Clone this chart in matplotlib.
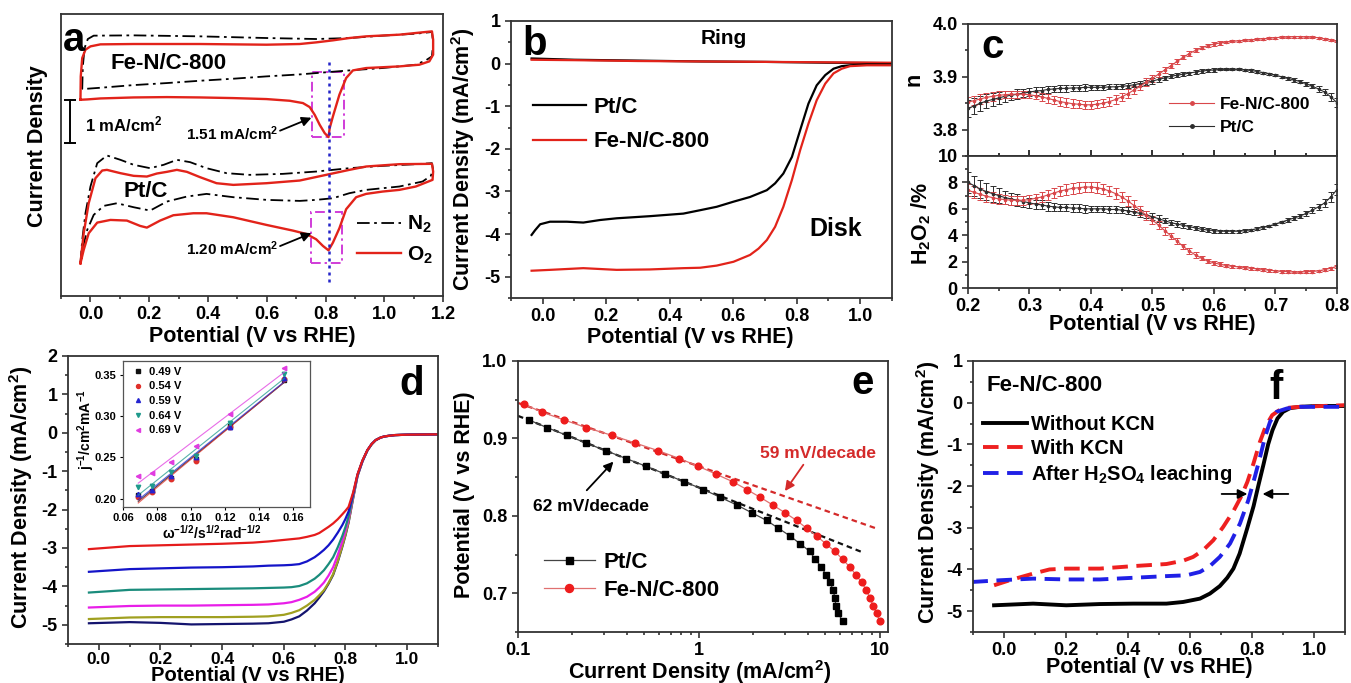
import numpy as np
import matplotlib
matplotlib.use("Agg")
import matplotlib.pyplot as plt
from matplotlib.patches import Rectangle
from matplotlib.lines import Line2D
from matplotlib.ticker import (MultipleLocator, FormatStrFormatter, FuncFormatter,
                               LogLocator, NullFormatter, FixedLocator)

# ---------------- (a) cyclic voltammograms (current relative to trace baseline, mA/cm2)
fe_n2_E = [-0.028, -0.026, -0.020, -0.009, 0.011, 0.147, 0.373, 0.599, 0.768, 0.881, 0.994, 1.107,
           1.162, 1.166, 1.162, 1.141, 1.107, 0.994, 0.881, 0.768, 0.712, 0.599, 0.486, 0.373,
           0.260, 0.147, 0.034, -0.028]
fe_n2_j = [-0.194, 0.333, 0.760, 0.969, 1.047, 1.054, 1.031, 0.992, 0.969, 0.992, 1.047, 1.093,
           1.132, 0.876, 0.566, 0.473, 0.372, 0.295, 0.240, 0.178, 0.147, 0.101, 0.047, 0.000,
           -0.054, -0.101, -0.163, -0.194]
fe_o2_E = [-0.034, -0.033, -0.028, -0.017, 0.000, 0.034, 0.147, 0.373, 0.599, 0.712, 0.768, 0.825,
           0.881, 0.938, 1.051, 1.162, 1.166, 1.166, 1.153, 1.119, 1.051, 0.938, 0.893, 0.870,
           0.847, 0.825, 0.814, 0.810, 0.797, 0.780, 0.763, 0.746, 0.723, 0.678, 0.599, 0.486,
           0.373, 0.260, 0.147, 0.034, -0.011, -0.034]
fe_o2_j = [-0.442, 0.101, 0.527, 0.721, 0.798, 0.845, 0.853, 0.853, 0.837, 0.853, 0.891, 0.938,
           0.992, 1.031, 1.070, 1.147, 0.953, 0.605, 0.450, 0.372, 0.333, 0.295, 0.240, 0.062,
           -0.326, -0.829, -1.101, -1.309, -1.217, -1.023, -0.791, -0.612, -0.519, -0.465, -0.426,
           -0.403, -0.388, -0.380, -0.388, -0.411, -0.434, -0.442]
pt_n2_E = [-0.034, -0.028, -0.017, 0.000, 0.023, 0.056, 0.102, 0.147, 0.203, 0.249, 0.294, 0.339,
           0.395, 0.463, 0.542, 0.655, 0.768, 0.881, 0.994, 1.107, 1.162, 1.166, 1.158, 1.130,
           1.051, 0.938, 0.881, 0.825, 0.768, 0.712, 0.599, 0.486, 0.395, 0.328, 0.260, 0.203,
           0.147, 0.090, 0.045, 0.011, -0.011, -0.025, -0.034]
pt_n2_j = [-1.240, -0.698, -0.078, 0.543, 1.085, 1.264, 1.163, 1.047, 0.969, 1.047, 1.163, 1.109,
           0.969, 0.853, 0.814, 0.837, 0.891, 0.969, 1.023, 1.062, 1.085, 0.930, 0.791, 0.659,
           0.543, 0.465, 0.388, 0.271, 0.233, 0.209, 0.233, 0.295, 0.372, 0.310, 0.194, -0.016,
           0.062, 0.155, 0.093, -0.116, -0.465, -0.853, -1.240]
pt_o2_E = [-0.034, -0.023, -0.006, 0.017, 0.040, 0.056, 0.102, 0.147, 0.192, 0.226, 0.260, 0.294,
           0.328, 0.373, 0.429, 0.486, 0.599, 0.712, 0.802, 0.881, 0.938, 1.051, 1.162, 1.166,
           1.164, 1.107, 1.051, 0.994, 0.938, 0.904, 0.870, 0.847, 0.825, 0.810, 0.791, 0.768,
           0.734, 0.689, 0.599, 0.486, 0.395, 0.350, 0.282, 0.237, 0.192, 0.169, 0.124, 0.068,
           0.023, -0.006, -0.023, -0.034]
pt_o2_j = [-1.240, -0.543, 0.155, 0.736, 0.915, 0.930, 0.853, 0.791, 0.775, 0.845, 0.884, 0.930,
           0.884, 0.760, 0.620, 0.581, 0.620, 0.682, 0.814, 0.930, 1.008, 1.062, 1.070, 0.891,
           0.698, 0.543, 0.465, 0.426, 0.372, 0.295, 0.016, -0.426, -0.760, -0.939, -0.837,
           -0.682, -0.558, -0.481, -0.349, -0.171, -0.078, -0.078, -0.124, -0.248, -0.411,
           -0.372, -0.248, -0.233, -0.295, -0.543, -0.930, -1.240]
peak_potential = 0.81
fe_peak_current = 1.51
pt_peak_current = 1.20

# ---------------- (b) RRDE ring / disk currents
ring_E = [-0.035, 0.1, 0.3, 0.5, 0.7, 0.9, 1.1]
ring_pt = [0.12, 0.09, 0.07, 0.05, 0.04, 0.02, 0.01]
ring_fe = [0.09, 0.08, 0.06, 0.05, 0.04, 0.03, 0.02]
pt_disk_E = [-0.035, -0.024, -0.008, 0.023, 0.076, 0.128, 0.181, 0.233, 0.338, 0.443, 0.496,
             0.548, 0.601, 0.653, 0.706, 0.732, 0.758, 0.785, 0.811, 0.837, 0.863, 0.890, 0.916,
             0.942, 0.968, 1.021, 1.095]
pt_disk_j = [-4.02, -3.91, -3.77, -3.71, -3.71, -3.73, -3.67, -3.63, -3.58, -3.52, -3.44, -3.36,
             -3.24, -3.13, -2.97, -2.81, -2.58, -2.19, -1.56, -0.94, -0.51, -0.27, -0.12, -0.06,
             -0.04, -0.02, -0.02]
fe_disk_E = [-0.035, 0.023, 0.128, 0.233, 0.338, 0.443, 0.496, 0.548, 0.601, 0.653, 0.680, 0.706,
             0.732, 0.758, 0.785, 0.811, 0.837, 0.863, 0.890, 0.916, 0.942, 0.968, 1.021, 1.095]
fe_disk_j = [-4.86, -4.84, -4.80, -4.84, -4.83, -4.80, -4.79, -4.74, -4.65, -4.49, -4.34, -4.14,
             -3.83, -3.36, -2.73, -2.03, -1.41, -0.86, -0.47, -0.23, -0.12, -0.06, -0.04, -0.04]

# ---------------- (c) electron transfer number and peroxide yield
c_E = np.linspace(0.20, 0.80, 61)
fe_n = [3.852, 3.855, 3.858, 3.861, 3.863, 3.865, 3.866, 3.867, 3.867, 3.867,
        3.866, 3.864, 3.862, 3.859, 3.856, 3.853, 3.851, 3.849, 3.848, 3.847,
        3.847, 3.848, 3.850, 3.853, 3.857, 3.862, 3.868, 3.875, 3.882, 3.890,
        3.897, 3.905, 3.913, 3.921, 3.929, 3.937, 3.944, 3.950, 3.955, 3.959,
        3.962, 3.964, 3.966, 3.967, 3.968, 3.969, 3.970, 3.971, 3.972, 3.973,
        3.974, 3.975, 3.975, 3.976, 3.976, 3.975, 3.975, 3.974, 3.972, 3.970, 3.967]
fe_n_err = [0.009, 0.009, 0.009, 0.008, 0.008, 0.008, 0.007, 0.007, 0.007, 0.007,
            0.007, 0.007, 0.008, 0.008, 0.008, 0.008, 0.008, 0.008, 0.008, 0.008,
            0.008, 0.008, 0.008, 0.008, 0.008, 0.008, 0.008, 0.008, 0.007, 0.007,
            0.006, 0.006, 0.006, 0.005, 0.005, 0.004, 0.004, 0.004, 0.003, 0.003,
            0.003, 0.003, 0.002, 0.002, 0.002, 0.002, 0.002, 0.002, 0.002, 0.002,
            0.002, 0.002, 0.002, 0.002, 0.002, 0.002, 0.002, 0.002, 0.002, 0.002, 0.002]
pt_n = [3.840, 3.845, 3.850, 3.854, 3.857, 3.860, 3.863, 3.865, 3.867, 3.869,
        3.871, 3.873, 3.874, 3.876, 3.877, 3.878, 3.878, 3.879, 3.879, 3.880,
        3.880, 3.880, 3.880, 3.881, 3.881, 3.882, 3.883, 3.885, 3.887, 3.889,
        3.892, 3.895, 3.898, 3.901, 3.903, 3.905, 3.907, 3.909, 3.911, 3.912,
        3.913, 3.914, 3.914, 3.914, 3.914, 3.913, 3.912, 3.910, 3.908, 3.906,
        3.903, 3.900, 3.897, 3.894, 3.891, 3.887, 3.882, 3.877, 3.871, 3.862, 3.851]
pt_n_err = [0.016, 0.015, 0.014, 0.013, 0.012, 0.011, 0.010, 0.009, 0.009, 0.008,
            0.008, 0.007, 0.007, 0.007, 0.006, 0.006, 0.006, 0.006, 0.006, 0.006,
            0.005, 0.005, 0.005, 0.005, 0.005, 0.005, 0.005, 0.005, 0.005, 0.005,
            0.005, 0.005, 0.004, 0.004, 0.004, 0.004, 0.003, 0.003, 0.003, 0.003,
            0.003, 0.002, 0.002, 0.002, 0.002, 0.002, 0.002, 0.002, 0.002, 0.002,
            0.002, 0.002, 0.003, 0.003, 0.003, 0.004, 0.004, 0.005, 0.006, 0.007, 0.008]
fe_h2o2 = [7.40, 7.25, 7.10, 6.95, 6.85, 6.75, 6.70, 6.65, 6.65, 6.65,
           6.70, 6.80, 6.90, 7.05, 7.20, 7.35, 7.45, 7.55, 7.60, 7.65,
           7.65, 7.60, 7.50, 7.35, 7.15, 6.90, 6.60, 6.25, 5.90, 5.50,
           5.15, 4.75, 4.35, 3.95, 3.55, 3.15, 2.80, 2.50, 2.25, 2.05,
           1.90, 1.80, 1.70, 1.65, 1.60, 1.55, 1.50, 1.45, 1.40, 1.35,
           1.30, 1.25, 1.25, 1.20, 1.20, 1.25, 1.25, 1.30, 1.40, 1.50, 1.65]
fe_h2o2_err = [0.45, 0.45, 0.45, 0.40, 0.40, 0.40, 0.35, 0.35, 0.35, 0.35,
               0.35, 0.35, 0.40, 0.40, 0.40, 0.40, 0.40, 0.40, 0.40, 0.40,
               0.40, 0.40, 0.40, 0.40, 0.40, 0.40, 0.40, 0.40, 0.35, 0.35,
               0.30, 0.30, 0.30, 0.25, 0.25, 0.20, 0.20, 0.20, 0.15, 0.15,
               0.15, 0.15, 0.10, 0.10, 0.10, 0.10, 0.10, 0.10, 0.10, 0.10,
               0.10, 0.10, 0.10, 0.10, 0.10, 0.10, 0.10, 0.10, 0.10, 0.10, 0.10]
pt_h2o2 = [8.00, 7.75, 7.50, 7.30, 7.15, 7.00, 6.85, 6.75, 6.65, 6.55,
           6.45, 6.35, 6.30, 6.20, 6.15, 6.10, 6.10, 6.05, 6.05, 6.00,
           6.00, 6.00, 6.00, 5.95, 5.95, 5.90, 5.85, 5.75, 5.65, 5.55,
           5.40, 5.25, 5.10, 4.95, 4.85, 4.75, 4.65, 4.55, 4.45, 4.40,
           4.35, 4.30, 4.30, 4.30, 4.30, 4.35, 4.40, 4.50, 4.60, 4.70,
           4.85, 5.00, 5.15, 5.30, 5.45, 5.65, 5.90, 6.15, 6.45, 6.90, 7.45]
pt_h2o2_err = [0.80, 0.75, 0.70, 0.65, 0.60, 0.55, 0.50, 0.45, 0.45, 0.40,
               0.40, 0.35, 0.35, 0.35, 0.30, 0.30, 0.30, 0.30, 0.30, 0.30,
               0.25, 0.25, 0.25, 0.25, 0.25, 0.25, 0.25, 0.25, 0.25, 0.25,
               0.25, 0.25, 0.20, 0.20, 0.20, 0.20, 0.15, 0.15, 0.15, 0.15,
               0.15, 0.10, 0.10, 0.10, 0.10, 0.10, 0.10, 0.10, 0.10, 0.10,
               0.10, 0.10, 0.15, 0.15, 0.15, 0.20, 0.20, 0.25, 0.30, 0.35, 0.40]

# ---------------- (d) LSV at different rotation rates + K-L plot
d_E = [-0.032, 0.1, 0.2, 0.3, 0.4, 0.5, 0.55, 0.6, 0.625, 0.65, 0.675, 0.7, 0.715, 0.73, 0.745,
       0.76, 0.775, 0.79, 0.80, 0.81, 0.825, 0.839, 0.855, 0.871, 0.885, 0.898, 0.915, 0.93,
       0.96, 1.0, 1.1]
d_j_red = [-3.03, -2.95, -2.93, -2.91, -2.89, -2.86, -2.83, -2.79, -2.77, -2.75, -2.71, -2.66,
           -2.61, -2.53, -2.45, -2.36, -2.25, -2.12, -2.03, -1.93, -1.55, -1.08, -0.72, -0.45,
           -0.29, -0.19, -0.12, -0.09, -0.06, -0.05, -0.04]
d_j_blue = [-3.62, -3.55, -3.53, -3.51, -3.50, -3.48, -3.46, -3.45, -3.44, -3.42, -3.35, -3.24,
            -3.15, -3.05, -2.93, -2.78, -2.60, -2.40, -2.24, -2.05, -1.58, -1.09, -0.73, -0.45,
            -0.29, -0.19, -0.12, -0.09, -0.06, -0.05, -0.04]
d_j_teal = [-4.16, -4.09, -4.08, -4.07, -4.06, -4.05, -4.04, -4.03, -4.02, -3.99, -3.92, -3.80,
            -3.70, -3.58, -3.42, -3.24, -2.98, -2.68, -2.45, -2.18, -1.62, -1.10, -0.73, -0.46,
            -0.29, -0.19, -0.12, -0.09, -0.06, -0.05, -0.04]
d_j_magenta = [-4.55, -4.51, -4.50, -4.50, -4.49, -4.48, -4.47, -4.44, -4.41, -4.35, -4.27, -4.14,
               -4.03, -3.90, -3.72, -3.50, -3.18, -2.82, -2.55, -2.25, -1.65, -1.11, -0.74, -0.46,
               -0.29, -0.19, -0.12, -0.09, -0.06, -0.05, -0.04]
d_j_olive = [-4.85, -4.81, -4.80, -4.80, -4.80, -4.79, -4.78, -4.74, -4.69, -4.62, -4.50, -4.35,
             -4.23, -4.10, -3.91, -3.68, -3.34, -2.94, -2.65, -2.32, -1.68, -1.12, -0.74, -0.46,
             -0.30, -0.19, -0.12, -0.09, -0.06, -0.05, -0.04]
d_j_navy = [-4.96, -4.93, -4.95, -4.99, -4.98, -4.97, -4.96, -4.92, -4.86, -4.78, -4.63, -4.44,
            -4.29, -4.13, -3.93, -3.70, -3.36, -2.96, -2.67, -2.34, -1.70, -1.13, -0.75, -0.46,
            -0.30, -0.19, -0.12, -0.09, -0.06, -0.05, -0.04]
kl_x = [0.069, 0.077, 0.088, 0.103, 0.123, 0.155]
kl_labels = ["0.49 V", "0.54 V", "0.59 V", "0.64 V", "0.69 V"]
kl_049 = [0.204, 0.209, 0.225, 0.248, 0.288, 0.344]
kl_054 = [0.202, 0.208, 0.224, 0.246, 0.287, 0.345]
kl_059 = [0.206, 0.211, 0.227, 0.250, 0.287, 0.346]
kl_064 = [0.214, 0.216, 0.232, 0.252, 0.292, 0.351]
kl_069 = [0.228, 0.231, 0.244, 0.264, 0.303, 0.358]

# ---------------- (e) Tafel plots
tafel_pt_j = [0.1146, 0.1445, 0.186, 0.238, 0.307, 0.396, 0.511, 0.650, 0.831, 1.059, 1.31, 1.62,
              1.96, 2.37, 2.75, 3.19, 3.62, 4.11, 4.38, 4.76, 5.03, 5.30, 5.53, 5.64, 5.72, 5.89, 6.22]
tafel_pt_E = [0.924, 0.914, 0.904, 0.894, 0.884, 0.874, 0.864, 0.854, 0.844, 0.834, 0.824, 0.814,
              0.804, 0.794, 0.784, 0.774, 0.764, 0.754, 0.744, 0.734, 0.724, 0.714, 0.704, 0.694,
              0.684, 0.674, 0.664]
tafel_fe_j = [0.108, 0.1355, 0.179, 0.238, 0.330, 0.445, 0.598, 0.780, 0.993, 1.24, 1.54, 1.84,
              2.18, 2.56, 2.99, 3.47, 3.94, 4.47, 5.03, 5.64, 6.22, 6.82, 7.37, 7.93, 8.44, 8.81,
              9.19, 9.59, 10.0]
tafel_fe_E = [0.944, 0.934, 0.924, 0.914, 0.904, 0.894, 0.884, 0.874, 0.864, 0.854, 0.844, 0.834,
              0.824, 0.814, 0.804, 0.794, 0.784, 0.774, 0.764, 0.754, 0.744, 0.734, 0.724, 0.714,
              0.704, 0.694, 0.684, 0.674, 0.664]

# ---------------- (f) poisoning test
f_none_E = [-0.032, 0.094, 0.201, 0.309, 0.417, 0.524, 0.578, 0.632, 0.664, 0.696, 0.72, 0.74,
            0.76, 0.785, 0.805, 0.82, 0.837, 0.852, 0.866, 0.882, 0.90, 0.923, 0.955, 1.009, 1.100]
f_none_j = [-4.86, -4.82, -4.86, -4.83, -4.82, -4.82, -4.78, -4.70, -4.58, -4.40, -4.20, -3.98,
            -3.62, -3.00, -2.48, -2.00, -1.48, -1.00, -0.66, -0.38, -0.22, -0.13, -0.10, -0.08, -0.08]
f_kcn_E = [-0.032, 0.018, 0.094, 0.147, 0.201, 0.309, 0.417, 0.524, 0.578, 0.610, 0.642, 0.675,
           0.707, 0.740, 0.765, 0.785, 0.805, 0.825, 0.845, 0.865, 0.890, 0.920, 0.955, 1.100]
f_kcn_j = [-4.38, -4.26, -4.10, -4.00, -3.98, -3.98, -3.92, -3.87, -3.79, -3.70, -3.54, -3.30,
           -2.98, -2.60, -2.25, -1.90, -1.45, -0.95, -0.55, -0.30, -0.17, -0.12, -0.10, -0.06]
f_acid_E = [-0.102, -0.014, 0.094, 0.201, 0.309, 0.417, 0.524, 0.589, 0.632, 0.664, 0.696, 0.729,
            0.761, 0.788, 0.809, 0.826, 0.842, 0.858, 0.879, 0.912, 0.955, 1.100]
f_acid_j = [-4.30, -4.26, -4.22, -4.24, -4.24, -4.20, -4.16, -4.14, -4.06, -3.92, -3.70, -3.38,
            -2.90, -2.34, -1.78, -1.30, -0.82, -0.46, -0.22, -0.14, -0.10, -0.10]

# ---------------- styling
plt.rcParams.update({
    "font.family": ["Liberation Sans", "DejaVu Sans"],
    "font.weight": "bold",
    "axes.labelweight": "bold",
    "axes.unicode_minus": False,
    "mathtext.fontset": "custom",
    "mathtext.rm": "Liberation Sans:bold",
    "mathtext.it": "Liberation Sans:bold",
    "mathtext.bf": "Liberation Sans:bold",
    "mathtext.sf": "Liberation Sans:bold",
})

RED = "#e2231a"
SPINE = "#333333"
TICK_FS = 13
LABEL_FS = 15.5
LETTER_FS = 29


def frame(ax, xmaj=None, xmin=None, ymaj=None, ymin=None):
    if xmaj:
        ax.xaxis.set_major_locator(MultipleLocator(xmaj))
        ax.xaxis.set_minor_locator(MultipleLocator(xmin))
    if ymaj:
        ax.yaxis.set_major_locator(MultipleLocator(ymaj))
        ax.yaxis.set_minor_locator(MultipleLocator(ymin))
    ax.tick_params(which="both", direction="out", width=1.2, labelsize=TICK_FS,
                   top=False, right=False, colors=SPINE, labelcolor="black")
    ax.tick_params(which="major", length=4.5, pad=3)
    ax.tick_params(which="minor", length=2.5)
    for s in ax.spines.values():
        s.set_linewidth(1.3)
        s.set_color(SPINE)


def arrow(ax, start, end, color="black", lw=1.3):
    ax.annotate("", xy=end, xytext=start,
                arrowprops=dict(arrowstyle="-|>", color=color, lw=lw,
                                mutation_scale=14, shrinkA=0, shrinkB=0))


fig = plt.figure(figsize=(13.51, 6.83), dpi=100)

# ======================= (a)
ax = fig.add_axes([0.0452, 0.5666, 0.2828, 0.4129])
FE_OFF, PT_OFF = 5.0, 2.0
DASHDOT = (0, (7, 2.5, 1.5, 2.5))
ax.plot(fe_n2_E, np.array(fe_n2_j) + FE_OFF, color="black", lw=1.3, ls=DASHDOT)
ax.plot(fe_o2_E, np.array(fe_o2_j) + FE_OFF, color=RED, lw=1.7)
ax.plot(pt_n2_E, np.array(pt_n2_j) + PT_OFF, color="black", lw=1.3, ls=DASHDOT)
ax.plot(pt_o2_E, np.array(pt_o2_j) + PT_OFF, color=RED, lw=1.7)
ax.plot([peak_potential, peak_potential], [0.33, 5.45], color="#2424c8", lw=1.8, ls=(0, (1.2, 1.6)))
fe_min = min(fe_o2_j) + FE_OFF
pt_min = min(pt_o2_j) + PT_OFF
for lo, width, base, drop in [(0.755, 0.109, fe_min, fe_peak_current),
                              (0.749, 0.107, pt_min, pt_peak_current)]:
    ax.add_patch(Rectangle((lo, base), width, drop, fill=False, ec="#d03cd8",
                           lw=1.4, ls=(0, (5, 2, 1.2, 2))))
ax.plot([-0.068, -0.068], [3.55, 4.55], color="black", lw=1.4, marker="_", ms=9, mew=1.4)
ax.text(-0.017, 3.98, "1 mA/cm$^2$", fontsize=12, va="center", ha="left")
ax.text(0.638, 3.78, "%.2f mA/cm$^2$" % fe_peak_current, fontsize=11, va="center", ha="right")
arrow(ax, (0.645, 3.84), (0.752, 4.14))
ax.text(0.638, 1.11, "%.2f mA/cm$^2$" % pt_peak_current, fontsize=11, va="center", ha="right")
arrow(ax, (0.645, 1.16), (0.752, 1.46))
ax.text(0.068, 5.41, "Fe-N/C-800", fontsize=16, va="center", ha="left")
ax.text(0.113, 2.43, "Pt/C", fontsize=16, va="center", ha="left")
ax.text(-0.095, 5.95, "a", fontsize=LETTER_FS, va="center", ha="left")
ax.legend(handles=[Line2D([], [], color="black", lw=1.3, ls=DASHDOT),
                   Line2D([], [], color=RED, lw=1.7)],
          labels=["N$_2$", "O$_2$"], loc="lower left", bbox_to_anchor=(0.775, 0.107),
          frameon=False, fontsize=15, handlelength=2.1, handletextpad=0.3,
          labelspacing=0.45, borderpad=0, borderaxespad=0)
ax.set_xlim(-0.1, 1.2)
ax.set_ylim(0, 6.55)
frame(ax, 0.2, 0.1)
ax.set_yticks([])
ax.xaxis.set_major_formatter(FormatStrFormatter("%.1f"))
ax.set_xlabel("Potential (V vs RHE)", fontsize=LABEL_FS)
ax.set_ylabel("Current Density", fontsize=LABEL_FS)
ax.xaxis.set_label_coords(0.50, -0.105)
ax.yaxis.set_label_coords(-0.035, 0.53)

# ======================= (b)
ax = fig.add_axes([0.3782, 0.5637, 0.2820, 0.4056])
ax.plot(ring_E, ring_pt, color="black", lw=1.6)
ax.plot(ring_E, ring_fe, color=RED, lw=1.6)
ax.plot(pt_disk_E, pt_disk_j, color="black", lw=1.6, label="Pt/C")
ax.plot(fe_disk_E, fe_disk_j, color=RED, lw=1.6, label="Fe-N/C-800")
ax.text(0.569, 0.59, "Ring", fontsize=15, ha="center", va="center")
ax.text(0.923, -3.87, "Disk", fontsize=18, ha="center", va="center")
ax.text(-0.065, 0.45, "b", fontsize=LETTER_FS, ha="left", va="center")
ax.legend(loc="upper left", bbox_to_anchor=(0.057, 0.725), frameon=False, fontsize=16,
          handlelength=2.4, handletextpad=0.35, labelspacing=0.6, borderpad=0, borderaxespad=0)
ax.set_xlim(-0.1, 1.1)
ax.set_ylim(-5.5, 1)
frame(ax, 0.2, 0.1, 1, 0.5)
ax.xaxis.set_major_formatter(FormatStrFormatter("%.1f"))
ax.set_xlabel("Potential (V vs RHE)", fontsize=LABEL_FS)
ax.set_ylabel("Current Density (mA/cm$^2$)", fontsize=LABEL_FS)
ax.xaxis.set_label_coords(0.47, -0.105)
ax.yaxis.set_label_coords(-0.09, 0.50)

# ======================= (c)
ax_n = fig.add_axes([0.7165, 0.7716, 0.2731, 0.1933])
ax_h = fig.add_axes([0.7165, 0.5783, 0.2731, 0.1933], sharex=ax_n)
C_RED, C_BLK = "#d9474a", "#2d2d2d"
eb = dict(lw=0.8, elinewidth=0.7, capsize=2.2, capthick=0.7, marker="o", ms=1.6)
ax_n.errorbar(c_E, pt_n, yerr=pt_n_err, color=C_BLK, **eb)
ax_n.errorbar(c_E, fe_n, yerr=fe_n_err, color=C_RED, **eb)
ax_h.errorbar(c_E, pt_h2o2, yerr=pt_h2o2_err, color=C_BLK, **eb)
ax_h.errorbar(c_E, fe_h2o2, yerr=fe_h2o2_err, color=C_RED, **eb)
ax_n.legend(handles=[Line2D([], [], color=C_RED, lw=0.8, marker="o", ms=2.5),
                     Line2D([], [], color=C_BLK, lw=0.8, marker="o", ms=2.5)],
            labels=["Fe-N/C-800", "Pt/C"], loc="upper left", bbox_to_anchor=(0.545, 0.45),
            frameon=False, fontsize=12.5, handlelength=2.6, handletextpad=0.3,
            labelspacing=0.45, borderpad=0, borderaxespad=0)
ax_n.text(0.221, 3.957, "c", fontsize=LETTER_FS, ha="left", va="center")
ax_n.set_xlim(0.2, 0.8)
ax_n.set_ylim(3.75, 4.0)
ax_h.set_ylim(0, 10)
frame(ax_n, 0.1, 0.05, 0.1, 0.05)
frame(ax_h, 0.1, 0.05, 2, 1)
ax_n.yaxis.set_major_locator(FixedLocator([3.8, 3.9, 4.0]))
ax_n.yaxis.set_major_formatter(FormatStrFormatter("%.1f"))
ax_n.tick_params(axis="x", which="both", direction="in", labelbottom=False)
ax_h.tick_params(axis="x", which="both", top=True)
ax_h.xaxis.set_major_formatter(FormatStrFormatter("%.1f"))
ax_n.set_ylabel("n", fontsize=LABEL_FS)
ax_h.set_ylabel("H$_2$O$_2$ /%", fontsize=LABEL_FS)
ax_h.set_xlabel("Potential (V vs RHE)", fontsize=LABEL_FS)
ax_n.yaxis.set_label_coords(-0.118, 0.58)
ax_h.yaxis.set_label_coords(-0.096, 0.49)
ax_h.xaxis.set_label_coords(0.50, -0.20)

# ======================= (d)
ax = fig.add_axes([0.0503, 0.0571, 0.2739, 0.4217])
for vals, col in [(d_j_navy, "#14146e"), (d_j_olive, "#a0a020"), (d_j_magenta, "#e81ee8"),
                  (d_j_teal, "#1a8c7c"), (d_j_blue, "#1414c8"), (d_j_red, "#e51b1b")]:
    ax.plot(d_E, vals, color=col, lw=1.6)
ax.text(0.975, 1.28, "d", fontsize=LETTER_FS, ha="left", va="center")
ax.set_xlim(-0.1, 1.1)
ax.set_ylim(-5.5, 2)
frame(ax, 0.2, 0.1, 1, 0.5)
ax.tick_params(axis="x", which="major", labelsize=12.5, pad=1)
ax.xaxis.set_major_formatter(FormatStrFormatter("%.1f"))
ax.set_xlabel("Potential (V vs RHE)", fontsize=14.5)
ax.set_ylabel("Current Density (mA/cm$^2$)", fontsize=LABEL_FS)
ax.xaxis.set_label_coords(0.485, -0.078)
ax.yaxis.set_label_coords(-0.09, 0.51)

axi = fig.add_axes([0.0910, 0.2577, 0.1384, 0.2138])
kl_sets = [kl_049, kl_054, kl_059, kl_064, kl_069]
kl_marks = ["s", "o", "^", "v", "<"]
kl_cols = ["#111111", "#e0302a", "#2424d0", "#1f9a8c", "#e03ce0"]
xs = np.array(kl_x)
for vals, m, col, lab in zip(kl_sets, kl_marks, kl_cols, kl_labels):
    k, b = np.polyfit(xs, vals, 1)
    axi.plot(xs, k * xs + b, color=col, lw=0.8, alpha=0.75)
    axi.plot(xs, vals, ls="none", marker=m, ms=3.2, color=col, label=lab)
axi.legend(loc="upper left", bbox_to_anchor=(0.06, 0.96), frameon=False, fontsize=8,
           handlelength=0.7, handletextpad=0.6, labelspacing=0.42, borderpad=0,
           borderaxespad=0, markerscale=0.9)
axi.set_xlim(0.06, 0.17)
axi.set_ylim(0.19, 0.367)
axi.xaxis.set_major_locator(MultipleLocator(0.02))
axi.yaxis.set_major_locator(MultipleLocator(0.05))
axi.xaxis.set_major_formatter(FormatStrFormatter("%.2f"))
axi.yaxis.set_major_formatter(FormatStrFormatter("%.2f"))
axi.tick_params(which="both", direction="out", labelsize=8, length=2.5, width=0.8,
                top=False, right=False, pad=2)
for s in axi.spines.values():
    s.set_linewidth(0.9)
    s.set_color("#555555")
axi.set_ylabel("j$^{-1}$/cm$^2$mA$^{-1}$", fontsize=10, labelpad=1)
axi.set_xlabel("ω$^{-1/2}$/s$^{1/2}$rad$^{-1/2}$", fontsize=10, labelpad=1)
axi.yaxis.set_label_coords(-0.14, 0.53)
axi.xaxis.set_label_coords(0.475, -0.115)

# ======================= (e)
ax = fig.add_axes([0.3834, 0.0747, 0.2739, 0.3968])
ax.set_xscale("log")
ax.plot(tafel_pt_j, tafel_pt_E, color="#444444", lw=0.9, marker="s", ms=4.2,
        mfc="black", mec="black", label="Pt/C")
ax.plot(tafel_fe_j, tafel_fe_E, color="#e07070", lw=0.9, marker="o", ms=4.8,
        mfc="#ee1c1c", mec="#ee1c1c", label="Fe-N/C-800")
for jj, ee, col, xmax in [(tafel_pt_j, tafel_pt_E, "#111111", 8.1),
                          (tafel_fe_j, tafel_fe_E, "#d42a2a", 9.5)]:
    k, b = np.polyfit(np.log10(jj[:10]), ee[:10], 1)
    xl = np.array([0.1, xmax])
    ax.plot(xl, k * np.log10(xl) + b, color=col, lw=1.6, ls=(0, (2.5, 1.8)), zorder=1)
ax.text(0.121, 0.812, "62 mV/decade", fontsize=12.5, ha="left", va="center")
arrow(ax, (0.240, 0.833), (0.337, 0.870))
ax.text(2.18, 0.881, "59 mV/decade", fontsize=12.5, ha="left", va="center", color="#d42a2a")
arrow(ax, (3.78, 0.866), (2.99, 0.832), color="#d42a2a")
ax.text(7.0, 0.971, "e", fontsize=LETTER_FS, ha="left", va="center")
ax.legend(loc="lower left", bbox_to_anchor=(0.07, 0.115), frameon=False, fontsize=16,
          handlelength=2.3, handletextpad=0.4, labelspacing=0.3, borderpad=0,
          borderaxespad=0, numpoints=1, markerscale=1.2)
ax.set_xlim(0.1, 11.1)
ax.set_ylim(0.65, 1.0)
frame(ax, None, None, 0.1, 0.05)
ax.xaxis.set_major_locator(LogLocator(base=10))
ax.xaxis.set_minor_locator(LogLocator(base=10, subs=np.arange(2, 10)))
ax.xaxis.set_major_formatter(FuncFormatter(lambda v, p: "%g" % v))
ax.xaxis.set_minor_formatter(NullFormatter())
ax.yaxis.set_major_formatter(FormatStrFormatter("%.1f"))
ax.set_xlabel("Current Density (mA/cm$^2$)", fontsize=LABEL_FS)
ax.set_ylabel("Potential (V vs RHE)", fontsize=LABEL_FS)
ax.xaxis.set_label_coords(0.49, -0.095)
ax.yaxis.set_label_coords(-0.115, 0.505)

# ======================= (f)
ax = fig.add_axes([0.7202, 0.0747, 0.2754, 0.3968])
ax.plot(f_none_E, f_none_j, color="black", lw=2.8, label="Without KCN")
ax.plot(f_kcn_E, f_kcn_j, color="#ee2020", lw=2.8, ls=(0, (4, 2.2)), label="With KCN")
ax.plot(f_acid_E, f_acid_j, color="#2020e6", lw=2.8, ls=(0, (4, 2.2)),
        label="After H$_2$SO$_4$ leaching")
arrow(ax, (0.702, -2.19), (0.785, -2.19))
arrow(ax, (0.917, -2.19), (0.834, -2.19))
ax.text(-0.055, 0.42, "Fe-N/C-800", fontsize=16, ha="left", va="center")
ax.text(0.855, 0.34, "f", fontsize=LETTER_FS, ha="left", va="center")
ax.legend(loc="upper left", bbox_to_anchor=(0.027, 0.80), frameon=False, fontsize=14.5,
          handlelength=2.2, handletextpad=0.2, labelspacing=0.25, borderpad=0,
          borderaxespad=0)
ax.set_xlim(-0.1, 1.1)
ax.set_ylim(-5.5, 1)
frame(ax, 0.2, 0.1, 1, 0.5)
ax.xaxis.set_major_formatter(FormatStrFormatter("%.1f"))
ax.set_xlabel("Potential (V vs RHE)", fontsize=LABEL_FS)
ax.set_ylabel("Current Density (mA/cm$^2$)", fontsize=LABEL_FS)
ax.xaxis.set_label_coords(0.473, -0.092)
ax.yaxis.set_label_coords(-0.083, 0.517)

fig.savefig("out.png", dpi=100)
